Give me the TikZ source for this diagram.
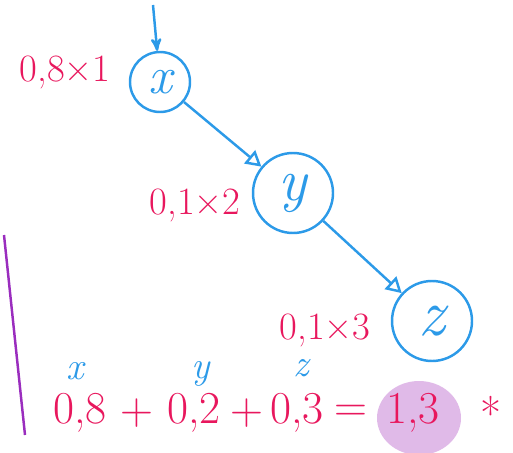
\documentclass[tikz,border=0pt]{standalone}
\usepackage{fontspec}
\usepackage{tikz}
\usetikzlibrary{shapes,backgrounds,positioning,arrows}
\definecolor{inkred}{RGB}{232,23,93}
\definecolor{inkblue}{RGB}{44,154,232}
\definecolor{inkpurple}{RGB}{154,45,190}
\definecolor{marker}{RGB}{224,186,232}

\begin{document}
\begin{tikzpicture}[auto,>=stealth',line width=1.4pt]
\tikzstyle{var} = [draw=inkblue, shape=circle, text=inkblue, inner sep=0pt]
\tikzstyle{weight}=[text=inkred, font=\fontsize{22}{26}\selectfont]
\tikzstyle{sum}=[text=inkred, inner sep=0.5pt, font=\fontsize{26}{30}\selectfont]
\tikzstyle{tag}=[text=inkblue, inner sep=0.5pt, font=\fontsize{22}{26}\selectfont\itshape]
\useasboundingbox (0,0) rectangle (10.26,-9.04);

% Variables
\node [var, minimum size=1.2cm, font=\fontsize{30}{34}\selectfont\itshape] at (3.2,-1.64) (varX) {x};
\node [var, minimum size=1.6cm, font=\fontsize{34}{38}\selectfont\itshape] at (5.86,-3.86) (varY) {y};
\node [var, minimum size=1.6cm, font=\fontsize{38}{42}\selectfont\itshape] at (8.64,-6.42) (varZ) {z};
\coordinate (start) at (3.06,-0.1);
\draw[->, inkblue] (start) -- (varX);
\draw[-open triangle 60, inkblue] (varX) -- (varY);
\draw[-open triangle 60, inkblue] (varY) -- (varZ);

% Weights
\node [weight, left of=varX, node distance=1.9cm, yshift=0.2cm] (wX) {0,8×1};
\node [weight, left of=varY, node distance=1.96cm, yshift=-0.24cm] (wY) {0,1×2};
\node [weight, left of=varZ, node distance=2.14cm, yshift=-0.18cm] (wZ) {0,1×3};

% Sum
\node [sum] at (1.6,-8.26) (eqX) {0,8};
\node [sum, right of=eqX, node distance=1.14cm] (plusA) {+};
\node [sum, right of=plusA, node distance=1.14cm] (eqY) {0,2};
\node [sum, right of=eqY, node distance=1.06cm] (plusB) {+};
\node [sum, right of=plusB, node distance=1.0cm] (eqZ) {0,3};
\node [sum, right of=eqZ, node distance=1.08cm] (eqSign) {=};
\node [sum, right of=eqSign, node distance=1.24cm] (total) {1,3};
\node [sum, right of=total, node distance=1.56cm] (star) {*};
\begin{scope}[on background layer]
\fill[marker] ([xshift=0.12cm,yshift=-0.1cm]total.center) ellipse (0.84cm and 0.74cm);
\end{scope}
\node [tag, above of=eqX, node distance=0.84cm, xshift=-0.1cm] (tagX) {x};
\node [tag, above of=eqY, node distance=0.78cm, xshift=0.14cm] (tagY) {y};
\node [tag, above of=eqZ, node distance=0.9cm, xshift=0.08cm] (tagZ) {z};

% Margin line
\coordinate (barTop) at (0.08,-4.7);
\coordinate (barBot) at (0.5,-8.7);
\draw[inkpurple] (barTop) -- (barBot);

\end{tikzpicture}
\end{document}
